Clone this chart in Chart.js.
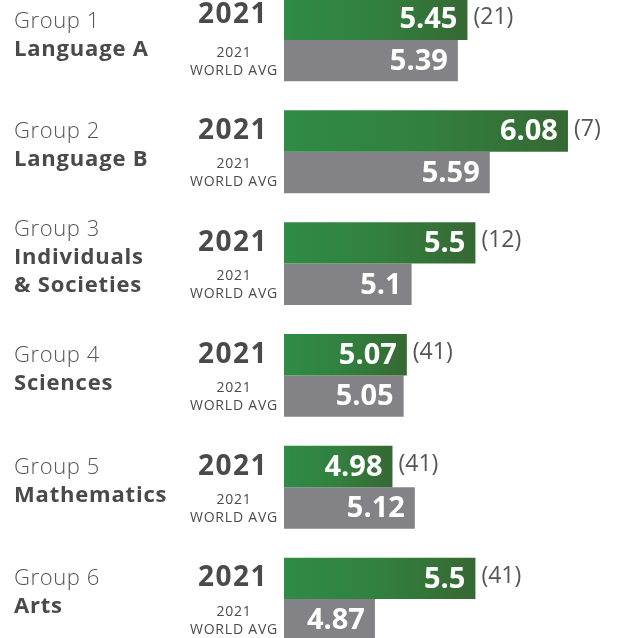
<!DOCTYPE html>
<html>
<head>
<meta charset="utf-8">
<script src="https://cdn.jsdelivr.net/npm/chart.js@4.4.1/dist/chart.umd.min.js"></script>
<style>
  html, body { margin: 0; padding: 0; background: #fff; overflow: hidden; }
  #wrap { position: absolute; left: 0; top: -16px; width: 619px; height: 671px; }
</style>
</head>
<body>
<div id="wrap"><canvas id="chart"></canvas></div>
<script>
// data
const groupNames = ['Group 1', 'Group 2', 'Group 3', 'Group 4', 'Group 5', 'Group 6'];
const subjects = [['Language A'], ['Language B'], ['Individuals', '& Societies'], ['Sciences'], ['Mathematics'], ['Arts']];
const schoolScores = [5.45, 6.08, 5.5, 5.07, 4.98, 5.5];
const worldAvg = [5.39, 5.59, 5.1, 5.05, 5.12, 4.87];
const ranks = ['(21)', '(7)', '(12)', '(41)', '(41)', '(41)'];
const yearLabel = '2021';
const worldLines = ['2021', 'WORLD AVG'];

const FONT = '"Open Sans", "DejaVu Sans", sans-serif';

function greenFill(c) {
    const chart = c.chart;
    if (!chart.chartArea) return '#31803f';
    const x = chart.scales.x;
    const g = chart.ctx.createLinearGradient(x.left, 0, x.getPixelForValue(c.raw), 0);
    g.addColorStop(0, '#2f8b47');
    g.addColorStop(0.5, '#32803f');
    g.addColorStop(1, '#366833');
    return g;
}

function txt(ctx, s, x, y, font, spacing) {
    ctx.font = font;
    ctx.letterSpacing = (spacing || 0) + 'px';
    ctx.fillText(s, x, y);
}

const labelPlugin = {
    id: 'labels',
    afterDatasetsDraw(chart) {
        const ctx = chart.ctx;
        const green = chart.getDatasetMeta(0).data;
        const grey = chart.getDatasetMeta(1).data;
        ctx.save();
        ctx.textBaseline = 'middle';
        green.forEach(function (bar, i) {
            const gb = grey[i];
            const mid = (bar.y + gb.y) / 2;

            // values inside the bars
            ctx.fillStyle = '#fff';
            ctx.textAlign = 'right';
            txt(ctx, String(schoolScores[i]), bar.x - 10, bar.y + 1, '700 29px ' + FONT, 0);
            txt(ctx, String(worldAvg[i]), gb.x - 10, gb.y + 1, '700 29px ' + FONT, 0);

            // rank next to green bar
            ctx.fillStyle = '#555';
            ctx.textAlign = 'left';
            txt(ctx, ranks[i], bar.x + 6, bar.y - 2, '400 23px ' + FONT, 0);

            // year + world avg labels
            ctx.fillStyle = '#4a4a4a';
            ctx.textAlign = 'right';
            txt(ctx, yearLabel, 268, bar.y - (i === 0 ? 4 : 0), '700 28px ' + FONT, 1.5);
            ctx.textAlign = 'center';
            txt(ctx, worldLines[0], 234, gb.y - 8, '400 14px ' + FONT, 0.8);
            txt(ctx, worldLines[1], 234, gb.y + 10, '400 14px ' + FONT, 0.8);

            // group name + subject
            const lines = [groupNames[i]].concat(subjects[i]);
            const start = mid - 6 - (lines.length - 1) / 2 * 28 + (i === 0 ? 2 : 0);
            ctx.textAlign = 'left';
            lines.forEach(function (t, k) {
                ctx.fillStyle = k === 0 ? '#555' : '#4a4a4a';
                if (k === 0) txt(ctx, t, 14, start + k * 28, '300 22px ' + FONT, 0.6);
                else txt(ctx, t, 14, start + k * 28, '700 22px ' + FONT, 0.8);
            });
        });
        ctx.restore();
    }
};

new Chart(document.getElementById('chart'), {
    type: 'bar',
    data: {
        labels: groupNames,
        datasets: [
            { label: '2021', data: schoolScores, backgroundColor: greenFill, borderWidth: 0 },
            { label: 'World avg', data: worldAvg, backgroundColor: '#838387', borderWidth: 0 }
        ]
    },
    options: {
        indexAxis: 'y',
        responsive: true,
        maintainAspectRatio: false,
        animation: false,
        layout: { padding: { left: 284, right: 0, top: 0, bottom: 0 } },
        datasets: { bar: { categoryPercentage: 0.74, barPercentage: 1 } },
        scales: {
            x: { display: false, min: 4.3, max: 6.4 },
            y: { display: false, offset: true }
        },
        plugins: { legend: { display: false }, tooltip: { enabled: false } }
    },
    plugins: [labelPlugin]
});
</script>
</body>
</html>
